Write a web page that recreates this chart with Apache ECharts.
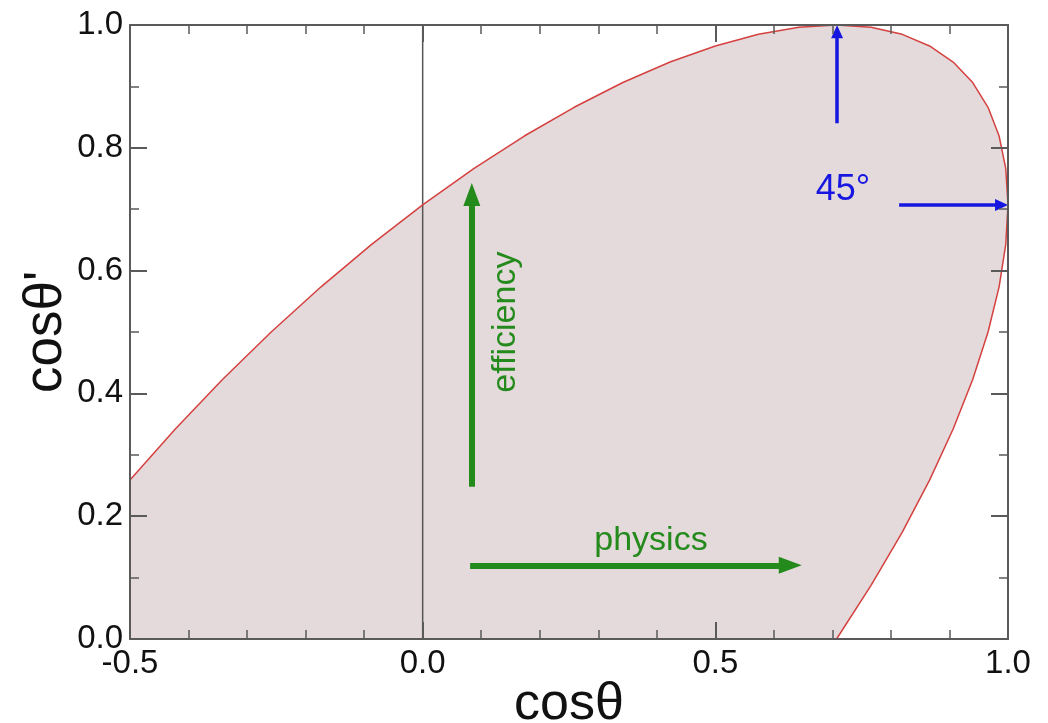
<!DOCTYPE html>
<html>
<head>
<meta charset="utf-8">
<script src="https://cdn.jsdelivr.net/npm/echarts@6/dist/echarts.min.js"></script>
<style>html,body{margin:0;padding:0;background:#fff;overflow:hidden}#c{width:1048px;height:723px}</style>
</head>
<body>
<div id="c"></div>
<script>
// Upper boundary of the allowed region
const upperX = [-0.5, -0.4226, -0.3420, -0.2588, -0.1736, -0.0872, 0.0, 0.0872, 0.1736, 0.2588, 0.3420, 0.4226, 0.5, 0.5736, 0.6428, 0.7071, 0.7660, 0.8192, 0.8660, 0.9063, 0.9397, 0.9659, 0.9848, 0.9962, 1.0];
const upperY = [0.2588, 0.3420, 0.4226, 0.5, 0.5736, 0.6428, 0.7071, 0.7660, 0.8192, 0.8660, 0.9063, 0.9397, 0.9659, 0.9848, 0.9962, 1.0, 0.9962, 0.9848, 0.9659, 0.9397, 0.9063, 0.8660, 0.8192, 0.7660, 0.7071];
// Lower boundary (right side, going down to the x axis)
const lowerX = [1.0, 0.9962, 0.9848, 0.9659, 0.9397, 0.9063, 0.8660, 0.8192, 0.7660, 0.7071];
const lowerY = [0.7071, 0.6428, 0.5736, 0.5, 0.4226, 0.3420, 0.2588, 0.1736, 0.0872, 0.0];
// Corner closing the shaded region
const cornerX = [-0.5];
const cornerY = [0.0];

// Vertical reference line at cosθ = 0
const refLineX = [0.0, 0.0];
const refLineY = [0.0, 1.0];

// Arrows: [x0, y0, x1, y1]
const greenArrows = [[0.084, 0.248, 0.084, 0.724], [0.081, 0.120, 0.628, 0.120]];
const blueArrows = [[0.708, 0.840, 0.708, 0.989], [0.814, 0.707, 0.989, 0.707]];

// Annotations
const annoText = ['efficiency', 'physics', '45°'];
const annoX = [0.141, 0.390, 0.718];
const annoY = [0.516, 0.160, 0.731];
const annoColor = ['#248a1c', '#248a1c', '#1616e0'];
const annoRotate = [90, 0, 0];
const annoSize = [34, 34, 36];

// Axis ranges / tick steps
const xMin = -0.5, xMax = 1.0, xStep = 0.5;
const yMin = 0.0, yMax = 1.0, yStep = 0.2;

const FONT = "'Liberation Sans', Arial, Helvetica, sans-serif";
const axisColor = '#5a5a5a';

const outline = [];
upperX.forEach((x, i) => outline.push([x, upperY[i]]));
lowerX.forEach((x, i) => { if (i > 0) outline.push([x, lowerY[i]]); });
const polygon = outline.concat(cornerX.map((x, i) => [x, cornerY[i]]));

function axisCommon(extra) {
  return Object.assign({
    type: 'value', z: 10,
    splitLine: { show: false },
    nameMoveOverlap: false,
    axisLine: { show: true, onZero: false, lineStyle: { color: axisColor, width: 2 } },
    axisTick: { show: true, inside: true, length: 17, lineStyle: { color: axisColor, width: 2 } }
  }, extra);
}
const chart = echarts.init(document.getElementById('c'), null, { renderer: 'canvas' });
chart.setOption({
  animation: false,
  backgroundColor: '#ffffff',
  grid: { left: 130, right: 40, top: 25, bottom: 84, containLabel: false, outerBoundsMode: 'none' },
  xAxis: [
    axisCommon({
      min: xMin, max: xMax, interval: xStep, position: 'bottom',
      minorTick: { show: true, splitNumber: 5, length: 9, lineStyle: { color: axisColor, width: 1.5 } },
      axisLabel: { color: '#111', fontSize: 33, fontFamily: FONT, margin: 8, formatter: v => v.toFixed(1) },
      name: 'cosθ', nameLocation: 'middle', nameGap: 40,
      nameTextStyle: { color: '#111', fontSize: 52, fontFamily: FONT }
    }),
    axisCommon({
      min: xMin, max: xMax, interval: xStep, position: 'top',
      minorTick: { show: true, splitNumber: 5, length: 9, lineStyle: { color: axisColor, width: 1.5 } },
      axisLabel: { show: false }
    })
  ],
  yAxis: [
    axisCommon({
      min: yMin, max: yMax, interval: yStep, position: 'left',
      minorTick: { show: true, splitNumber: 2, length: 9, lineStyle: { color: axisColor, width: 1.5 } },
      axisLabel: { color: '#111', fontSize: 33, fontFamily: FONT, margin: 7, formatter: v => v.toFixed(1) },
      name: "cosθ'", nameLocation: 'middle', nameGap: 57, nameRotate: 90,
      nameTextStyle: { color: '#111', fontSize: 53, fontFamily: FONT }
    }),
    axisCommon({
      min: yMin, max: yMax, interval: yStep, position: 'right',
      minorTick: { show: true, splitNumber: 2, length: 9, lineStyle: { color: axisColor, width: 1.5 } },
      axisLabel: { show: false }
    })
  ],
  series: [
    {
      type: 'custom', z: 1, silent: true, data: [[0, 0]],
      renderItem: function (params, api) {
        const pts = polygon.map(p => api.coord(p));
        return { type: 'polygon', shape: { points: pts }, style: { fill: '#e4dadc' } };
      }
    },
    {
      type: 'line', z: 2, silent: true, showSymbol: false, symbol: 'none',
      data: refLineX.map((x, i) => [x, refLineY[i]]),
      lineStyle: { color: '#555', width: 1.5 }
    },
    {
      type: 'line', z: 3, silent: true, showSymbol: false, symbol: 'none',
      data: outline, lineStyle: { color: '#d4413f', width: 1.5 }
    },
    {
      type: 'lines', coordinateSystem: 'cartesian2d', z: 4, silent: true,
      data: greenArrows.map(a => ({ coords: [[a[0], a[1]], [a[2], a[3]]] })),
      lineStyle: { color: '#248a1c', width: 6, opacity: 1 },
      symbol: ['none', 'triangle'], symbolSize: [0, [17, 23]]
    },
    {
      type: 'lines', coordinateSystem: 'cartesian2d', z: 4, silent: true,
      data: blueArrows.map(a => ({ coords: [[a[0], a[1]], [a[2], a[3]]] })),
      lineStyle: { color: '#1616e0', width: 3.5, opacity: 1 },
      symbol: ['none', 'triangle'], symbolSize: [0, [12, 13]]
    },
    {
      type: 'scatter', z: 5, silent: true, symbolSize: 1,
      itemStyle: { color: 'rgba(0,0,0,0)', opacity: 1 },
      data: annoText.map((t, i) => ({
        value: [annoX[i], annoY[i]], name: t,
        label: {
          show: true, position: 'inside', formatter: t, opacity: 1,
          rotate: annoRotate[i], color: annoColor[i], fontSize: annoSize[i], fontFamily: FONT
        }
      }))
    }
  ]
});
</script>
</body>
</html>
